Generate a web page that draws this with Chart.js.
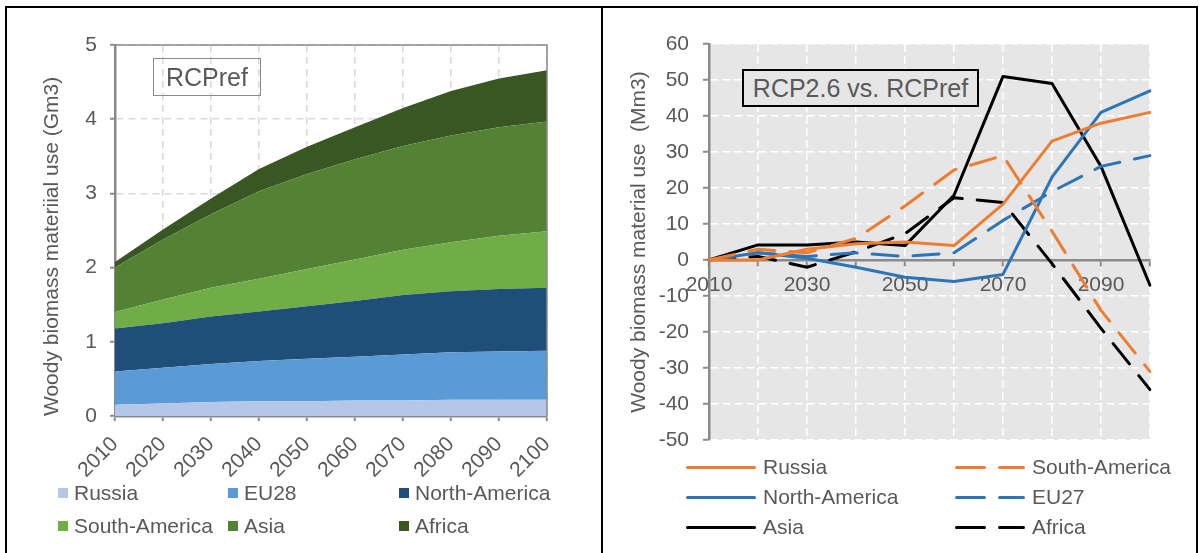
<!DOCTYPE html>
<html>
<head>
<meta charset="utf-8">
<script src="https://cdn.jsdelivr.net/npm/chart.js@4"></script>
<style>
body{margin:0;background:#fff;font-family:"Liberation Sans",Arial,sans-serif;color:#595959}
#page{position:relative;width:1203px;height:553px;overflow:hidden}
canvas{position:absolute;top:0}
#c1{left:0}
#c2{left:603px}
.frame{position:absolute;border:2px solid #000;box-sizing:border-box}
.vline{position:absolute;background:#000}
.tag{position:absolute;box-sizing:border-box;display:flex;align-items:center;justify-content:center;font-size:25px}
.leg{position:absolute;display:flex;align-items:center;white-space:nowrap}
.box{width:10px;height:10px;margin-right:6px}
.smp{position:relative;width:70px;height:3px;margin-right:7px}
.smp div{position:absolute;top:0;height:3px;border-radius:1.5px}
</style>
</head>
<body>
<div id="page">
  <canvas id="c1" width="600" height="553"></canvas>
  <canvas id="c2" width="600" height="553"></canvas>
  <div class="frame" style="left:5px;top:6px;width:1193px;height:570px"></div>
  <div class="vline" style="left:601px;top:6px;width:2px;height:560px"></div>
  <div class="tag" style="left:153px;top:58px;width:108px;height:38px;border:1.5px solid #8a8a8a">RCPref</div>
  <div class="tag" style="left:742px;top:69px;width:237px;height:38px;border:2px solid #000;background:#e6e6e6">RCP2.6 vs. RCPref</div>
  <div id="leg1"></div>
  <div id="leg2"></div>
</div>
<script>
// decades on the x axis
const years = ['2010','2020','2030','2040','2050','2060','2070','2080','2090','2100'];

// left panel: RCPref, woody biomass material use (Gm3), stacked
const russia       = [0.15, 0.17, 0.19, 0.20, 0.20, 0.21, 0.21, 0.22, 0.22, 0.22];
const eu28         = [0.45, 0.48, 0.51, 0.54, 0.57, 0.59, 0.62, 0.64, 0.65, 0.66];
const northAmerica = [0.58, 0.60, 0.64, 0.67, 0.71, 0.75, 0.80, 0.82, 0.84, 0.85];
const southAmerica = [0.22, 0.32, 0.39, 0.44, 0.50, 0.56, 0.61, 0.66, 0.72, 0.76];
const asia         = [0.60, 0.81, 0.99, 1.18, 1.28, 1.35, 1.40, 1.44, 1.46, 1.48];
const africa       = [0.075, 0.135, 0.21, 0.30, 0.37, 0.43, 0.51, 0.60, 0.66, 0.69];

// right panel: RCP2.6 vs RCPref difference (Mm3)
const russiaDiff       = [0, 0, 3, 4.5, 5, 4, 15.5, 33, 38, 41];
const southAmericaDiff = [0, 3, 2, 6, 15, 25, 29, 8, -14, -31];
const northAmericaDiff = [0, 2, 0.5, -2, -4.8, -6, -4, 23, 41, 47];
const eu27Diff         = [0, 2, 1, 2, 1, 2, 11, 19, 26, 29];
const asiaDiff         = [0, 4.2, 4.2, 5, 4, 18, 51, 49, 26, -7];
const africaDiff       = [0, 1, -2, 2.3, 7.3, 17.3, 16, -1, -19, -36];

const grey = '#595959';
const axisGrey = '#8a8a8a';
const font = 'Liberation Sans';

// ---------- left chart ----------
const areaSeries = [
  ['Russia', russia, '#b4c7e7'],
  ['EU28', eu28, '#5b9bd5'],
  ['North-America', northAmerica, '#1f4e79'],
  ['South-America', southAmerica, '#70ad47'],
  ['Asia', asia, '#548235'],
  ['Africa', africa, '#385723']
];

const plotFrame = {
  id: 'plotFrame',
  afterDatasetsDraw(chart) {
    const {ctx, chartArea: a} = chart;
    ctx.save();
    ctx.strokeStyle = axisGrey;
    ctx.lineWidth = 1.5;
    ctx.beginPath();
    ctx.moveTo(a.left, a.top);
    ctx.lineTo(a.right, a.top);
    ctx.lineTo(a.right, a.bottom);
    ctx.stroke();
    ctx.restore();
  }
};

new Chart(document.getElementById('c1'), {
  type: 'line',
  data: {
    labels: years,
    datasets: areaSeries.map((s, i) => ({
      label: s[0],
      data: s[1],
      backgroundColor: s[2],
      borderColor: s[2],
      borderWidth: 0,
      fill: i === 0 ? 'origin' : '-1'
    }))
  },
  options: {
    responsive: false,
    animation: false,
    layout: {padding: {top: 45, right: 53, left: 0, bottom: 0}},
    elements: {point: {radius: 0}, line: {tension: 0}},
    plugins: {legend: {display: false}, tooltip: {enabled: false}},
    scales: {
      x: {
        grid: {color: '#d9d9d9', lineWidth: 1.5, tickColor: axisGrey, tickLength: 5, tickWidth: 2},
        border: {color: axisGrey, width: 2.5, dash: [7, 5]},
        ticks: {color: grey, font: {family: font, size: 21}, minRotation: 45, maxRotation: 45, padding: 11, autoSkip: false},
        afterFit: s => { s.height = 137; }
      },
      y: {
        stacked: true,
        min: 0, max: 5,
        grid: {color: '#d9d9d9', lineWidth: 1.5, tickColor: axisGrey, tickLength: 5, tickWidth: 2},
        border: {color: axisGrey, width: 2.5, dash: [7, 5]},
        ticks: {stepSize: 1, color: grey, font: {family: font, size: 21}, padding: 13},
        title: {display: true, text: 'Woody biomass materiial use (Gm3)', color: grey,
                font: {family: font, size: 21}, align: 'start', padding: {top: 40}},
        afterFit: s => { s.width = 115; }
      }
    }
  },
  plugins: [plotFrame]
});

// ---------- right chart ----------
const lineSeries = [
  ['Russia', russiaDiff, '#ed7d31', false],
  ['South-America', southAmericaDiff, '#ed7d31', true],
  ['North-America', northAmericaDiff, '#2e75b6', false],
  ['EU27', eu27Diff, '#2e75b6', true],
  ['Asia', asiaDiff, '#000000', false],
  ['Africa', africaDiff, '#000000', true]
];

const plotBg = {
  id: 'plotBg',
  beforeDraw(chart) {
    const {ctx, chartArea: a} = chart;
    ctx.save();
    ctx.fillStyle = '#e6e6e6';
    ctx.fillRect(a.left, a.top, a.right - a.left, a.bottom - a.top);
    ctx.restore();
  }
};

new Chart(document.getElementById('c2'), {
  type: 'line',
  data: {
    labels: years,
    datasets: lineSeries.map(s => ({
      label: s[0],
      data: s[1],
      borderColor: s[2],
      backgroundColor: s[2],
      borderWidth: 3,
      borderDash: s[3] ? [26, 15] : [],
      borderCapStyle: 'round',
      borderJoinStyle: 'round',
      fill: false
    }))
  },
  options: {
    responsive: false,
    animation: false,
    layout: {padding: {top: 44, right: 53, left: 0, bottom: 113}},
    elements: {point: {radius: 0}, line: {tension: 0}},
    plugins: {legend: {display: false}, tooltip: {enabled: false}},
    scales: {
      x: {
        position: {y: 0},
        grid: {color: '#ffffff', lineWidth: 1.5, tickColor: axisGrey, tickLength: 5, tickWidth: 2},
        border: {color: axisGrey, width: 2.5, dash: [8, 4]},
        ticks: {
          color: grey, font: {family: font, size: 21}, maxRotation: 0, autoSkip: false, padding: 8,
          callback: function (v, i) { return i % 2 ? '' : this.getLabelForValue(v); }
        }
      },
      y: {
        min: -50, max: 60,
        grid: {color: '#ffffff', lineWidth: 1.5, tickColor: axisGrey, tickLength: 6, tickWidth: 2},
        border: {color: axisGrey, width: 2.5, dash: [8, 4]},
        ticks: {stepSize: 10, color: grey, font: {family: font, size: 21}, padding: 14},
        title: {display: true, text: 'Woody biomass material use  (Mm3)', color: grey,
                font: {family: font, size: 21}, padding: {top: 24}},
        afterFit: s => { s.width = 106; }
      }
    }
  },
  plugins: [plotBg]
});

// ---------- legends ----------
const leg1 = document.getElementById('leg1');
const col1 = [58, 228, 399];
const row1 = [481, 514];
areaSeries.forEach((s, i) => {
  const d = document.createElement('div');
  d.className = 'leg';
  d.style.cssText = `left:${col1[i % 3]}px;top:${row1[Math.floor(i / 3)]}px;height:24px;font-size:21px`;
  d.innerHTML = `<div class="box" style="background:${s[2]}"></div><span>${s[0]}</span>`;
  leg1.appendChild(d);
});

const leg2 = document.getElementById('leg2');
const col2 = [686, 955];
const row2 = [455, 485, 515];
lineSeries.forEach((s, i) => {
  const d = document.createElement('div');
  d.className = 'leg';
  d.style.cssText = `left:${col2[i % 2]}px;top:${row2[Math.floor(i / 2)]}px;height:24px;font-size:21px`;
  const sample = s[3]
    ? `<div style="left:0;width:31px;background:${s[2]}"></div><div style="left:43px;width:27px;background:${s[2]}"></div>`
    : `<div style="left:0;width:70px;background:${s[2]}"></div>`;
  d.innerHTML = `<div class="smp">${sample}</div><span>${s[0]}</span>`;
  leg2.appendChild(d);
});
</script>
</body>
</html>
